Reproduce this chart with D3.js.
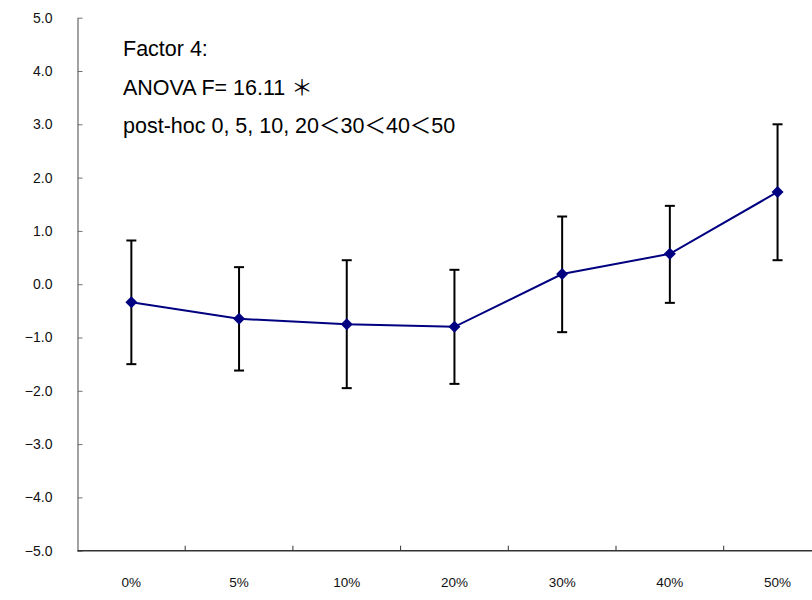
<!DOCTYPE html>
<html>
<head>
<meta charset="utf-8">
<script src="https://cdn.jsdelivr.net/npm/d3@7"></script>
<style>
body { margin:0; background:#fff; }
svg { display:block; font-family:"Liberation Sans", Arial, "Noto Sans CJK JP", sans-serif; }
</style>
</head>
<body>
<div id="chart"></div>
<script>
var categories = ["0%", "5%", "10%", "20%", "30%", "40%", "50%"];
var means = [-0.34, -0.65, -0.75, -0.80, 0.19, 0.57, 1.73];
var upper = [0.82, 0.32, 0.45, 0.27, 1.27, 1.47, 3.00];
var lower = [-1.50, -1.62, -1.95, -1.87, -0.90, -0.35, 0.45];
var yTicks = [-5, -4, -3, -2, -1, 0, 1, 2, 3, 4, 5];
var notes = ["Factor 4:", "ANOVA F= 16.11 ＊", "post-hoc 0, 5, 10, 20＜30＜40＜50"];

var chart = {
	padding: {l:77.5, t:17.7, b:49.3},
	w:812,
	h:600,
	svg:null
}

chart.svg = d3.select('#chart').append('svg')
			.attr('width', chart.w)
			.attr('height', chart.h);

var data = categories.map((c,i) => ({cat:c, m:means[i], hi:upper[i], lo:lower[i]}));

var x_scale = d3.scaleBand()
				.domain(categories)
				.range([chart.padding.l, chart.padding.l + 7*107.7])
				.padding(0);

var y_scale = d3.scaleLinear()
				.domain([-5, 5])
				.range([chart.h - chart.padding.b, chart.padding.t]);

var cx = d => x_scale(d.cat) + x_scale.bandwidth()/2;

// y axis, ticks pointing inward
var y_axis = d3.axisLeft(y_scale)
				.tickValues(yTicks)
				.tickFormat(d3.format(".1f"))
				.tickSizeInner(-5)
				.tickSizeOuter(0)
				.tickPadding(25);

chart.svg.append('g')
		.attr('transform', 'translate(' + chart.padding.l + ',0)')
	.call(y_axis)
	.call(g => g.select('.domain').attr('stroke', '#707070').attr('stroke-width', 1.3))
	.call(g => g.selectAll('.tick line').attr('stroke', '#707070'))
	.call(g => g.selectAll('text').attr('font-size', 14).attr('fill', '#111').attr('font-family', null));

// x axis: labels at band centres, ticks on band edges
var x_axis = d3.axisBottom(x_scale)
				.tickSize(0)
				.tickPadding(27);

var gx = chart.svg.append('g')
		.attr('transform', 'translate(0,' + y_scale(-5) + ')')
	.call(x_axis)
	.call(g => g.select('.domain').remove())
	.call(g => g.selectAll('text').attr('font-size', 13.5).attr('fill', '#111').attr('font-family', null));

gx.append('line')
	.attr('x1', x_scale.range()[0])
	.attr('x2', x_scale.range()[1])
	.attr('stroke', '#333')
	.attr('stroke-width', 1.5);

gx.selectAll('.edge')
	.data(categories)
	.enter()
	.append('line')
		.attr('class', 'edge')
		.attr('x1', d => x_scale(d) + x_scale.bandwidth())
		.attr('x2', d => x_scale(d) + x_scale.bandwidth())
		.attr('y1', 0)
		.attr('y2', -5)
		.attr('stroke', '#333');

// error bars
var eb = chart.svg.append('g')
		.attr('stroke', '#000')
		.attr('stroke-width', 2);

eb.selectAll('.v')
	.data(data)
	.enter()
	.append('line')
		.attr('x1', cx).attr('x2', cx)
		.attr('y1', d => y_scale(d.hi))
		.attr('y2', d => y_scale(d.lo));

['hi', 'lo'].forEach(k => {
	eb.selectAll('.cap-' + k)
		.data(data)
		.enter()
		.append('line')
			.attr('x1', d => cx(d) - 5).attr('x2', d => cx(d) + 5)
			.attr('y1', d => y_scale(d[k]))
			.attr('y2', d => y_scale(d[k]));
});

// mean line
var line = d3.line()
			.x(cx)
			.y(d => y_scale(d.m));

chart.svg.append('path')
		.datum(data)
		.attr('fill', 'none')
		.attr('stroke', '#000080')
		.attr('stroke-width', 2)
		.attr('d', line);

var diamond = d3.symbol().type(d3.symbolSquare).size(72);

chart.svg.append('g')
		.selectAll('path')
		.data(data)
		.enter()
		.append('path')
			.attr('d', diamond)
			.attr('fill', '#000080')
			.attr('transform', d => 'translate(' + cx(d) + ',' + y_scale(d.m) + ') rotate(45)');

// annotation
chart.svg.append('g')
		.selectAll('text')
		.data(notes)
		.enter()
		.append('text')
			.attr('x', 123)
			.attr('y', (d,i) => 56 + i*38.5)
			.attr('font-size', 21.5)
			.attr('fill', '#000')
			.text(d => d);
</script>
</body>
</html>
